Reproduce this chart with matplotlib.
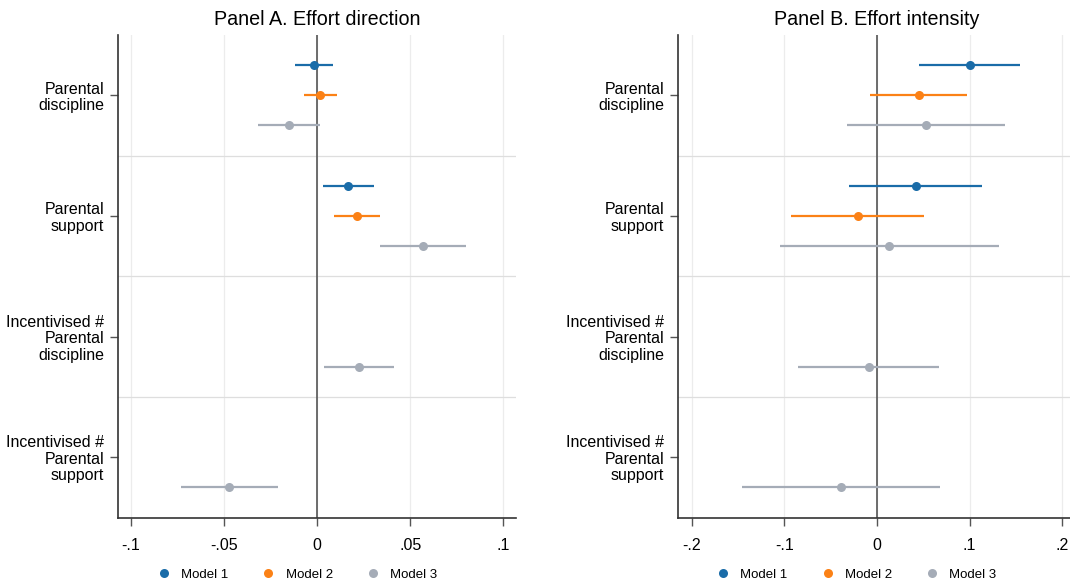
import numpy as np
import matplotlib.pyplot as plt
from matplotlib.lines import Line2D

plt.rcParams['font.family'] = ['Liberation Sans', 'DejaVu Sans']

# =============================================================
# Daten
# =============================================================
groups = ["Parental\ndiscipline", "Parental\nsupport",
          "Incentivised #\nParental\ndiscipline", "Incentivised #\nParental\nsupport"]
models = ["Model 1", "Model 2", "Model 3"]

# Panel A: Effort direction  (None = kein Koeffizient)
a_coef = [[-0.0018, 0.0169, None, None],
          [0.0018, 0.0214, None, None],
          [-0.0149, 0.0568, 0.0223, -0.0470]]
a_lo = [[-0.0116, 0.0033, None, None],
        [-0.0071, 0.0093, None, None],
        [-0.0316, 0.0338, 0.0036, -0.0730]]
a_hi = [[0.0087, 0.0305, None, None],
        [0.0109, 0.0336, None, None],
        [0.0018, 0.0800, 0.0414, -0.0209]]

# Panel B: Effort intensity
b_coef = [[0.1000, 0.0420, None, None],
          [0.0450, -0.0209, None, None],
          [0.0532, 0.0133, -0.0090, -0.0388]]
b_lo = [[0.0457, -0.0300, None, None],
        [-0.0076, -0.0924, None, None],
        [-0.0320, -0.1050, -0.0853, -0.1460]]
b_hi = [[0.1540, 0.1137, None, None],
        [0.0975, 0.0504, None, None],
        [0.1385, 0.1317, 0.0669, 0.0680]]

a_ticks = [-0.1, -0.05, 0, 0.05, 0.1]
a_ticklabels = ["-.1", "-.05", "0", ".05", ".1"]
b_ticks = [-0.2, -0.1, 0, 0.1, 0.2]
b_ticklabels = ["-.2", "-.1", "0", ".1", ".2"]

colors = ["#1a6ca8", "#fb8116", "#a5acb7"]
offsets = [-0.25, 0.0, 0.25]

W, H = 1070, 580


def px_axes(fig, x0, y0, x1, y1):
    """ Achse über Pixelkoordinaten (von oben links) anlegen """
    return fig.add_axes([x0 / W, (H - y1) / H, (x1 - x0) / W, (y1 - y0) / H])


def draw_panel(ax, title, coef, lo, hi, xlim, ticks, ticklabels, legend_x):
    ypos = np.arange(len(groups))

    # vertikale Gitterlinien und Trennlinien zwischen den Gruppen
    for t in ticks:
        ax.axvline(t, color="#ececec", lw=0.9, zorder=0)
    for y in ypos[:-1] + 0.5:
        ax.axhline(y, color="#dedede", lw=0.9, zorder=0)
    ax.axvline(0, color="#555555", lw=1.2, zorder=1)

    for m in range(len(models)):
        for g in range(len(groups)):
            if coef[m][g] is None:
                continue
            y = ypos[g] + offsets[m]
            ax.plot([lo[m][g], hi[m][g]], [y, y], color=colors[m], lw=1.6,
                    solid_capstyle="butt", zorder=2)
            ax.plot(coef[m][g], y, "o", color=colors[m], ms=6.5, mec="none", zorder=3)

    ax.set_xlim(*xlim)
    ax.set_ylim(len(groups) - 0.5, -0.5)
    ax.set_xticks(ticks)
    ax.set_xticklabels(ticklabels, fontsize=11.5)
    ax.set_yticks(ypos)
    ax.set_yticklabels(groups, fontsize=11.5, linespacing=1.12, ha="right")
    ax.tick_params(axis="both", length=6, width=1, color="#555555", pad=4)
    ax.tick_params(axis="x", pad=9)

    for s in ["top", "right"]:
        ax.spines[s].set_visible(False)
    for s in ["left", "bottom"]:
        ax.spines[s].set_color("#333333")
        ax.spines[s].set_linewidth(1.2)

    ax.set_title(title, fontsize=14.2, pad=7)

    handles = [Line2D([], [], marker="o", ls="none", color=c, ms=6.5, mec="none") for c in colors]
    ax.legend(handles, models, loc="center", bbox_to_anchor=(legend_x, -0.118),
              ncol=3, frameon=False, fontsize=9.5, handlelength=0.8, handletextpad=0.9,
              columnspacing=2.65, borderpad=0)


fig = plt.figure(figsize=(W / 100, H / 100), dpi=100)

ax_a = px_axes(fig, 118, 35, 516, 517.5)
draw_panel(ax_a, "Panel A. Effort direction", a_coef, a_lo, a_hi,
           (-0.1068, 0.1068), a_ticks, a_ticklabels, 0.452)

ax_b = px_axes(fig, 678, 35, 1076, 517.5)
draw_panel(ax_b, "Panel B. Effort intensity", b_coef, b_lo, b_hi,
           (-0.2148, 0.2148), b_ticks, b_ticklabels, 0.45)

fig.savefig("out.png", dpi=100, facecolor="white")
